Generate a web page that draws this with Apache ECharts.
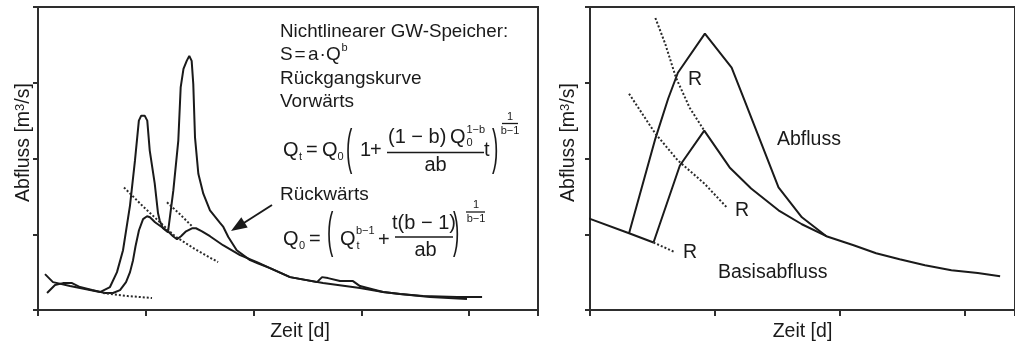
<!DOCTYPE html>
<html>
<head>
<meta charset="utf-8">
<title>Abfluss und Rückgangskurven</title>
<script src="https://cdn.jsdelivr.net/npm/echarts@6/dist/echarts.min.js"></script>
<style>
  html, body { margin: 0; padding: 0; background: #ffffff; }
  #chart { width: 1015px; height: 347px; }
</style>
</head>
<body>
<div id="chart"></div>
<script>
// ---- Left panel: hydrograph with two flood events [Zeit, Abfluss] ----
const sharpFlow = [
  [0.065,0.474],[0.139,0.368],[0.297,0.316],[0.436,0.276],[0.575,0.237],[0.668,0.303],
  [0.733,0.500],[0.789,0.789],[0.854,1.382],[0.900,1.974],[0.936,2.500],[0.958,2.566],
  [0.990,2.566],[1.014,2.500],[1.037,2.105],[1.083,1.671],[1.114,1.276],[1.129,1.184],
  [1.160,1.079],[1.206,1.026],[1.256,1.579],[1.302,2.237],[1.324,2.938],[1.350,3.184],
  [1.380,3.289],[1.404,3.355],[1.426,3.289],[1.441,2.983],[1.457,2.280],[1.488,1.799],
  [1.534,1.536],[1.596,1.316],[1.689,1.149],[1.720,1.096],[1.766,0.964],[1.844,0.789],
  [1.968,0.658],[2.045,0.614],[2.153,0.553],[2.339,0.434],[2.589,0.368],[2.636,0.434],
  [2.691,0.421],[2.803,0.382],[2.923,0.382],[2.988,0.316],[3.202,0.237],[3.360,0.211],
  [3.573,0.184],[3.889,0.171],[4.121,0.171]
];
const smoothFlow = [
  [0.084,0.224],[0.158,0.329],[0.232,0.355],[0.316,0.355],[0.390,0.303],[0.501,0.263],
  [0.622,0.224],[0.696,0.224],[0.761,0.263],[0.817,0.368],[0.854,0.500],[0.882,0.658],
  [0.905,0.842],[0.937,1.053],[0.975,1.200],[1.012,1.237],[1.039,1.224],[1.086,1.158],
  [1.151,1.092],[1.206,1.039],[1.253,0.974],[1.290,0.934],[1.327,0.974],[1.374,1.039],
  [1.429,1.079],[1.466,1.079],[1.522,1.039],[1.596,0.974],[1.717,0.855],[1.875,0.724],
  [2.032,0.632],[2.153,0.553],[2.339,0.434],[2.645,0.355],[2.988,0.289],[3.202,0.237],
  [3.360,0.211],[3.638,0.171],[3.981,0.145]
];
const baseDotted = [[0.603,0.224],[0.835,0.184],[1.058,0.158]];
const recessionDotted1 = [[0.798,1.618],[0.974,1.368],[1.132,1.158],[1.271,0.974],[1.457,0.803],[1.671,0.632]];
const recessionDotted2 = [[1.197,1.421],[1.318,1.263],[1.439,1.092]];

// ---- Right panel: schematic event with base flow separation ----
const baseflowStart = [[-0.078,1.250],[0.3125,1.013],[0.508,0.891]];
const runoffUpper = [
  [0.3125,1.013],[0.523,2.263],[0.625,2.789],[0.703,3.132],[0.919,3.649],[1.133,3.200],
  [1.237,2.763],[1.508,1.618],[1.695,1.224],[1.891,0.974]
];
const runoffLower = [
  [0.508,0.891],[0.719,1.908],[0.914,2.368],[1.117,1.882],[1.289,1.605],[1.508,1.316],
  [1.695,1.132],[1.891,0.974],[2.109,0.855],[2.289,0.750],[2.477,0.671],[2.680,0.592],
  [2.891,0.526],[3.102,0.487],[3.281,0.447]
];
const curveR1 = [[0.523,3.855],[0.602,3.513],[0.688,3.066],[0.797,2.671],[0.914,2.368]];
const curveR2 = [[0.3125,2.855],[0.523,2.329],[0.703,1.974],[0.914,1.671],[1.094,1.355]];
const curveR3 = [[0.508,0.891],[0.680,0.763]];

const FONT = '"Liberation Sans", Arial, Helvetica, sans-serif';
const INK = '#1a1a1a';
const AXIS = '#2e2e2e';
const FS = 20;   // formula symbol size
const FI = 11;   // indices and exponents

function solid(data, xi) {
  return { type: 'line', xAxisIndex: xi, yAxisIndex: xi, data, symbol: 'none', clip: false,
           silent: true, lineStyle: { color: INK, width: 2 } };
}
function dotted(data, xi) {
  return { type: 'line', xAxisIndex: xi, yAxisIndex: xi, data, symbol: 'none', clip: false,
           silent: true, lineStyle: { color: '#2a2a2a', width: 2, type: [2, 2] } };
}

// text helpers for the annotation and formulas
function txt(x, y, s, size, align) {
  return { type: 'text', x, y, silent: true, z: 10,
    style: { text: s, fontFamily: FONT, fontSize: size, fill: INK,
             align: align || 'left', textAlign: align || 'left',
             verticalAlign: 'middle', textVerticalAlign: 'middle' } };
}
function paren(x, y, s) {
  const t = txt(x, y, s, 19);
  t.scaleY = 2.6;
  return t;
}
function bar(x1, x2, y) {
  return { type: 'line', silent: true, z: 10, shape: { x1, y1: y, x2, y2: y },
           style: { stroke: INK, lineWidth: 1.3 } };
}

const graphics = [
  txt(280, 32, 'Nichtlinearer GW-Speicher:', 18.8),
  txt(280, 55, 'S', 19), txt(294.5, 55, '=', 19), txt(308, 55, 'a', 19),
  txt(319.5, 55, '\u00b7', 19), txt(326, 55, 'Q', 19), txt(341.5, 48, 'b', FI),
  txt(280, 79, 'Rückgangskurve', 19),
  txt(280, 102, 'Vorwärts', 19),
  // Q_t = Q_0 (1 + (1-b) Q_0^(1-b) / (ab) t)^(1/(b-1))
  txt(283, 150, 'Q', FS), txt(299, 157, 't', FI),
  txt(306, 150, '=', FS),
  txt(322, 150, 'Q', FS), txt(337.5, 157, '0', FI),
  paren(346, 150, '('),
  txt(360, 150, '1', FS), txt(370, 150, '+', FS),
  txt(388, 137, '(1 \u2212 b)', FS), txt(450, 137, 'Q', FS),
  txt(466.5, 143, '0', FI), txt(466.5, 130, '1\u2212b', FI),
  bar(387, 484, 152.5),
  txt(435.5, 165, 'ab', FS, 'center'),
  txt(484, 150, 't', FS),
  paren(492, 150, ')'),
  txt(510, 117, '1', FI, 'center'), bar(502, 518, 123.5), txt(510, 131, 'b\u22121', FI, 'center'),
  // Q_0 = (Q_t^(b-1) + t(b-1)/(ab))^(1/(b-1))
  txt(280, 195, 'Rückwärts', 19),
  txt(283, 239, 'Q', FS), txt(299, 246, '0', FI),
  txt(309, 239, '=', FS),
  paren(327, 233, '('),
  txt(340, 239, 'Q', FS), txt(356, 231, 'b\u22121', FI), txt(356.5, 246, 't', FI),
  txt(378, 240, '+', FS),
  txt(424, 223, 't(b \u2212 1)', FS, 'center'),
  bar(395, 453, 237),
  txt(425.5, 250, 'ab', FS, 'center'),
  paren(453, 233, ')'),
  txt(476, 205, '1', FI, 'center'), bar(466, 485, 212), txt(476, 219, 'b\u22121', FI, 'center'),
  // pointer to the recession limb
  { type: 'line', silent: true, z: 10, shape: { x1: 272, y1: 205, x2: 243, y2: 223.5 },
    style: { stroke: INK, lineWidth: 2 } },
  { type: 'polygon', silent: true, z: 10,
    shape: { points: [[231, 231], [241.3, 217.3], [247.7, 227.5]] }, style: { fill: INK } },
  // right panel labels
  txt(688, 80, 'R', 19.5), txt(735, 211, 'R', 19.5), txt(683, 253, 'R', 19.5),
  txt(777, 140, 'Abfluss', 19.5),
  txt(718, 273, 'Basisabfluss', 19.5)
];

const yName = '{a|Abfluss [m}{s|3}{a|/s]}';
function yAxisCfg(gi, gap) {
  return {
    gridIndex: gi, type: 'value', min: 0, max: 4, interval: 1,
    name: yName, nameLocation: 'middle', nameGap: gap,
    nameTextStyle: {
      padding: [0, 0, 0, 32],
      rich: {
        a: { fontFamily: FONT, fontSize: 19.5, color: INK },
        s: { fontFamily: FONT, fontSize: 13, color: INK, verticalAlign: 'top' }
      }
    },
    axisLine: { show: true, lineStyle: { color: AXIS, width: 2 } },
    axisTick: { show: true, inside: false, length: 5, lineStyle: { color: AXIS, width: 2 } },
    axisLabel: { show: false },
    splitLine: { show: false }
  };
}
function xAxisCfg(gi, max, pad) {
  return {
    gridIndex: gi, type: 'value', min: 0, max, interval: 1,
    name: 'Zeit [d]', nameLocation: 'middle', nameGap: 12,
    nameTextStyle: { fontFamily: FONT, fontSize: 19.5, color: INK, padding: [0, 0, 0, pad] },
    axisLine: { show: true, lineStyle: { color: AXIS, width: 2 } },
    axisTick: { show: true, inside: false, length: 6, lineStyle: { color: AXIS, width: 2 } },
    axisLabel: { show: false },
    splitLine: { show: false }
  };
}

const chart = echarts.init(document.getElementById('chart'), null, { renderer: 'canvas' });
chart.setOption({
  animation: false,
  backgroundColor: '#ffffff',
  textStyle: { fontFamily: FONT },
  grid: [
    { left: 38, top: 7, width: 500, height: 303, show: true, borderColor: AXIS, borderWidth: 2 },
    { left: 590, top: 7, width: 435, height: 303, show: true, borderColor: AXIS, borderWidth: 2 }
  ],
  xAxis: [xAxisCfg(0, 4.64, 24), xAxisCfg(1, 3.4, 0)],
  yAxis: [yAxisCfg(0, 4), yAxisCfg(1, 11)],
  series: [
    solid(sharpFlow, 0),
    solid(smoothFlow, 0),
    dotted(baseDotted, 0),
    dotted(recessionDotted1, 0),
    dotted(recessionDotted2, 0),
    solid(baseflowStart, 1),
    solid(runoffUpper, 1),
    solid(runoffLower, 1),
    dotted(curveR1, 1),
    dotted(curveR2, 1),
    dotted(curveR3, 1)
  ],
  graphic: { elements: graphics }
});
</script>
</body>
</html>
